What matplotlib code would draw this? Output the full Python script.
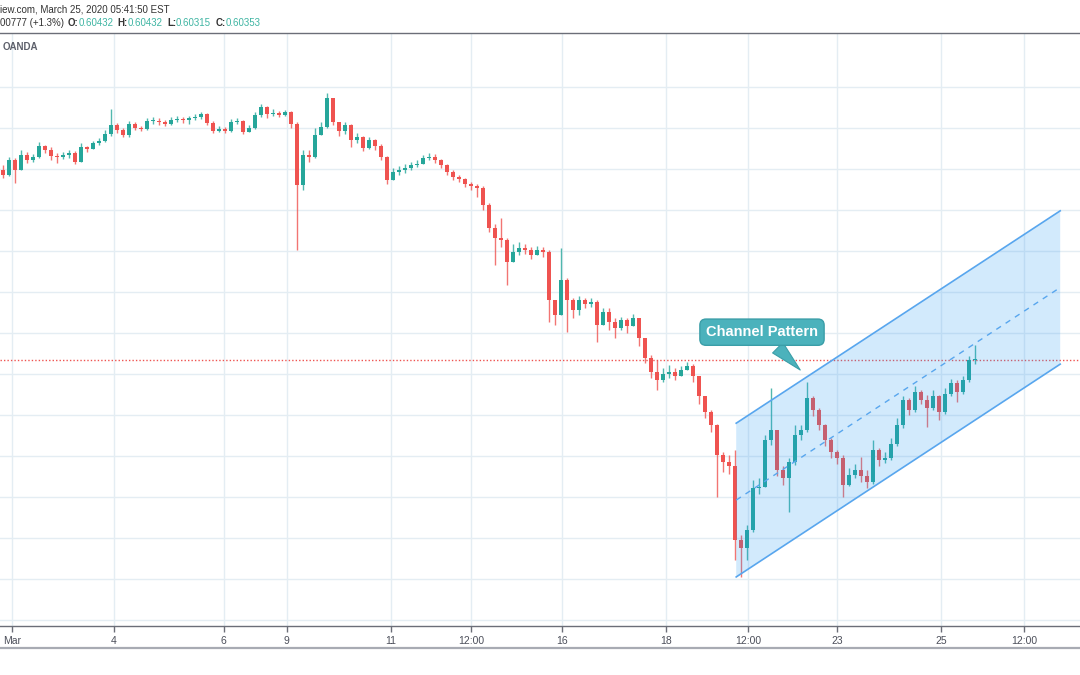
import matplotlib
matplotlib.use("Agg")
import matplotlib.pyplot as plt
import numpy as np
from matplotlib.patches import Polygon
from matplotlib.lines import Line2D

# ---------------- data (AUD/USD) ----------------
first_open = 0.6498
closes = [
    0.6485, 0.6522, 0.6498, 0.6534, 0.6522, 0.6529, 0.6556, 0.6546, 0.6532, 0.6529,
    0.6534, 0.6539, 0.6517, 0.6554, 0.6549, 0.6563, 0.6568, 0.6585, 0.6607, 0.6595,
    0.6583, 0.6610, 0.6600, 0.6598, 0.6617, 0.6617, 0.6615, 0.6610, 0.6620, 0.6622,
    0.6620, 0.6624, 0.6627, 0.6634, 0.6612, 0.6593, 0.6598, 0.6593, 0.6615, 0.6617,
    0.6590, 0.6600, 0.6632, 0.6651, 0.6634, 0.6637, 0.6632, 0.6639, 0.6610, 0.6461,
    0.6534, 0.6529, 0.6583, 0.6602, 0.6673, 0.6615, 0.6593, 0.6607, 0.6571, 0.6578,
    0.6551, 0.6571, 0.6556, 0.6529, 0.6473, 0.6493, 0.6498, 0.6502, 0.6510, 0.6512,
    0.6527, 0.6529, 0.6522, 0.6510, 0.6493, 0.6480, 0.6476, 0.6463, 0.6459, 0.6454,
    0.6412, 0.6356, 0.6332, 0.6327, 0.6273, 0.6298, 0.6307, 0.6302, 0.6290, 0.6302,
    0.6298, 0.6180, 0.6144, 0.6229, 0.6180, 0.6156, 0.6180, 0.6171, 0.6176, 0.6120,
    0.6151, 0.6127, 0.6112, 0.6132, 0.6117, 0.6137, 0.6088, 0.6039, 0.6005, 0.5985,
    0.6000, 0.6005, 0.5995, 0.6010, 0.6020, 0.5995, 0.5946, 0.5907, 0.5876, 0.5802,
    0.5785, 0.5776, 0.5595, 0.5576, 0.5620, 0.5722, 0.5724, 0.5839, 0.5863, 0.5766,
    0.5746, 0.5785, 0.5851, 0.5863, 0.5941, 0.5912, 0.5876, 0.5839, 0.5810, 0.5795,
    0.5729, 0.5754, 0.5766, 0.5751, 0.5737, 0.5815, 0.5790, 0.5795, 0.5829, 0.5876,
    0.5937, 0.5912, 0.5956, 0.5937, 0.5917, 0.5946, 0.5907, 0.5951, 0.5978, 0.5956,
    0.5985, 0.6034, 0.60353]
highs = [
    0.6510, 0.6529, 0.6527, 0.6546, 0.6541, 0.6537, 0.6566, 0.6559, 0.6554, 0.6539,
    0.6541, 0.6546, 0.6544, 0.6563, 0.6556, 0.6568, 0.6576, 0.6595, 0.6646, 0.6612,
    0.6600, 0.6617, 0.6615, 0.6605, 0.6624, 0.6627, 0.6624, 0.6620, 0.6627, 0.6629,
    0.6627, 0.6629, 0.6634, 0.6639, 0.6637, 0.6617, 0.6605, 0.6602, 0.6622, 0.6624,
    0.6620, 0.6607, 0.6639, 0.6659, 0.6654, 0.6646, 0.6641, 0.6644, 0.6641, 0.6615,
    0.6546, 0.6546, 0.6600, 0.6615, 0.6685, 0.6644, 0.6610, 0.6615, 0.6610, 0.6588,
    0.6580, 0.6578, 0.6573, 0.6561, 0.6532, 0.6502, 0.6507, 0.6512, 0.6517, 0.6522,
    0.6534, 0.6539, 0.6537, 0.6524, 0.6512, 0.6498, 0.6485, 0.6478, 0.6468, 0.6463,
    0.6459, 0.6417, 0.6366, 0.6380, 0.6332, 0.6317, 0.6322, 0.6317, 0.6310, 0.6312,
    0.6310, 0.6302, 0.6176, 0.6307, 0.6234, 0.6185, 0.6190, 0.6185, 0.6185, 0.6180,
    0.6161, 0.6161, 0.6137, 0.6139, 0.6137, 0.6146, 0.6137, 0.6088, 0.6046, 0.6034,
    0.6015, 0.6022, 0.6015, 0.6020, 0.6029, 0.6024, 0.5995, 0.5946, 0.5912, 0.5878,
    0.5810, 0.5802, 0.5815, 0.5607, 0.5632, 0.5741, 0.5746, 0.5851, 0.5966, 0.5863,
    0.5776, 0.5795, 0.5876, 0.5876, 0.5980, 0.5946, 0.5917, 0.5878, 0.5844, 0.5815,
    0.5802, 0.5771, 0.5780, 0.5798, 0.5766, 0.5839, 0.5819, 0.5810, 0.5844, 0.5893,
    0.5946, 0.5941, 0.5971, 0.5961, 0.5949, 0.5961, 0.5949, 0.5966, 0.5988, 0.5985,
    0.5995, 0.6044, 0.6071]
lows = [
    0.6478, 0.6483, 0.6466, 0.6498, 0.6515, 0.6517, 0.6527, 0.6539, 0.6522, 0.6515,
    0.6524, 0.6527, 0.6512, 0.6517, 0.6541, 0.6551, 0.6559, 0.6566, 0.6580, 0.6588,
    0.6578, 0.6578, 0.6595, 0.6593, 0.6595, 0.6610, 0.6607, 0.6605, 0.6607, 0.6615,
    0.6612, 0.6610, 0.6620, 0.6622, 0.6607, 0.6588, 0.6590, 0.6588, 0.6590, 0.6610,
    0.6585, 0.6590, 0.6598, 0.6627, 0.6624, 0.6629, 0.6627, 0.6629, 0.6600, 0.6302,
    0.6449, 0.6517, 0.6527, 0.6585, 0.6600, 0.6607, 0.6580, 0.6585, 0.6554, 0.6563,
    0.6544, 0.6549, 0.6546, 0.6522, 0.6463, 0.6476, 0.6485, 0.6490, 0.6498, 0.6505,
    0.6512, 0.6522, 0.6515, 0.6502, 0.6485, 0.6473, 0.6468, 0.6456, 0.6449, 0.6432,
    0.6400, 0.6346, 0.6266, 0.6310, 0.6217, 0.6273, 0.6290, 0.6293, 0.6280, 0.6293,
    0.6285, 0.6127, 0.6120, 0.6180, 0.6102, 0.6137, 0.6144, 0.6161, 0.6163, 0.6078,
    0.6127, 0.6107, 0.6088, 0.6107, 0.6100, 0.6117, 0.6068, 0.6027, 0.5990, 0.5961,
    0.5980, 0.5990, 0.5985, 0.5995, 0.6010, 0.5980, 0.5927, 0.5893, 0.5859, 0.5700,
    0.5761, 0.5756, 0.5546, 0.5505, 0.5546, 0.5615, 0.5707, 0.5729, 0.5827, 0.5751,
    0.5729, 0.5663, 0.5778, 0.5839, 0.5859, 0.5898, 0.5863, 0.5824, 0.5795, 0.5780,
    0.5700, 0.5727, 0.5746, 0.5737, 0.5722, 0.5732, 0.5776, 0.5783, 0.5790, 0.5824,
    0.5868, 0.5900, 0.5907, 0.5927, 0.5871, 0.5912, 0.5888, 0.5902, 0.5946, 0.5932,
    0.5951, 0.5980, 0.6024]

tick_labels = ["Mar", "4", "6", "9", "11", "12:00", "16", "18", "12:00", "23", "25", "12:00"]
tick_pos = [1.5, 18.5, 36.8, 47.3, 64.7, 78.0, 93.2, 110.5, 124.2, 139.0, 156.3, 170.2]
price_grid = [0.54, 0.55, 0.56, 0.57, 0.58, 0.59, 0.60, 0.61, 0.62, 0.63, 0.64, 0.65, 0.66, 0.67]
last_price = 0.60353

channel_x = [122.2, 176.2]
channel_upper = [0.5880, 0.6398]
channel_lower = [0.5505, 0.6024]
callout_text = "Channel Pattern"
callout_xy = (126.5, 0.6102)
callout_tip = (133.2, 0.6005)

header_line1 = "iew.com, March 25, 2020 05:41:50 EST"
header_change = "00777 (+1.3%)"
ohlc_names = ["O:", "H:", "L:", "C:"]
ohlc_values = ["0.60432", "0.60432", "0.60315", "0.60353"]

# ---------------- figure ----------------
W, H = 1080, 675
fig = plt.figure(figsize=(W / 100, H / 100), dpi=100)
fig.patch.set_facecolor("white")
ax = fig.add_axes([0, (H - 626) / H, 1, (626 - 33) / H])
ax.set_facecolor("white")

UP, DOWN = "#26a69a", "#ef5350"
n = len(closes)
x = np.arange(n)
c = np.array(closes)
o = np.array([first_open] + closes[:-1])
h = np.maximum.reduce([np.array(highs), o, c])
l = np.minimum.reduce([np.array(lows), o, c])
cols = [UP if cc >= oo else DOWN for oo, cc in zip(o, c)]

ax.vlines(x, l, h, colors=cols, linewidth=1.0, zorder=2, alpha=0.8)
body = np.maximum(np.abs(c - o), 0.00015)
ax.bar(x, body, bottom=np.minimum(o, c), width=0.72, color=cols, linewidth=0, zorder=2.1)

ax.set_xlim(-0.5, 179.5)
ax.set_ylim(0.53854, 0.68317)

# grid
ax.set_yticks(price_grid)
ax.set_xticks(tick_pos)
ax.set_xticklabels(tick_labels, fontsize=7.5, color="#4c4f5a", family=["Liberation Sans", "DejaVu Sans"])
ax.grid(True, color="#e4edf3", linewidth=1, zorder=0)
ax.set_axisbelow(True)
ax.tick_params(axis="y", left=False, labelleft=False)
ax.tick_params(axis="x", direction="out", length=4, width=1, color="#6b6e78", pad=3)
for s in ["left", "right"]:
    ax.spines[s].set_visible(False)
for s in ["bottom", "top"]:
    ax.spines[s].set_color("#6b6e78")
    ax.spines[s].set_linewidth(1)

# last price line
ax.axhline(last_price, color="#ef5350", linestyle=(0, (1, 1.5)), linewidth=1, zorder=1.5)

# channel
poly = Polygon([(channel_x[0], channel_lower[0]), (channel_x[0], channel_upper[0]),
                (channel_x[1], channel_upper[1]), (channel_x[1], channel_lower[1])],
               closed=True, facecolor="#2196f3", alpha=0.2, edgecolor="none", zorder=3)
ax.add_patch(poly)
ax.plot(channel_x, channel_upper, color="#58a6ee", linewidth=1.2, zorder=4)
ax.plot(channel_x, channel_lower, color="#58a6ee", linewidth=1.2, zorder=4)
mid = [(a + b) / 2 for a, b in zip(channel_upper, channel_lower)]
ax.plot(channel_x, mid, color="#58a6ee", linewidth=1, linestyle=(0, (4, 4)), zorder=4)

# callout
ax.annotate(callout_text, xy=callout_tip, xytext=callout_xy,
            ha="center", va="center", fontsize=10.5, fontweight="bold", color="white",
            family=["Liberation Sans", "DejaVu Sans"],
            bbox=dict(boxstyle="round,pad=0.42", fc="#4bb2bc", ec="#3a9ea8", lw=1),
            arrowprops=dict(arrowstyle="wedge,tail_width=1.0,shrink_factor=0.5",
                            fc="#4bb2bc", ec="#3a9ea8", lw=0.8),
            zorder=6)

# header
def fx(px):
    return px / W

def fy(py):
    return 1 - py / H

hdr_font = ["Liberation Sans", "DejaVu Sans"]
fig.text(fx(0), fy(9), header_line1, fontsize=7, color="#333333", va="center", ha="left", family=hdr_font)

fig.canvas.draw()
renderer = fig.canvas.get_renderer()
pieces = [(header_change, "#333333", "normal", 4)]
for nm, vv in zip(ohlc_names, ohlc_values):
    pieces.append((nm, "#333333", "bold", 0))
    pieces.append((vv, "#3fb5a3", "normal", 4))
xpos = 0.0
for txt, col, wt, gap in pieces:
    t = fig.text(fx(xpos), fy(23), txt, fontsize=7, color=col, fontweight=wt,
                 va="center", ha="left", family=hdr_font)
    bb = t.get_window_extent(renderer)
    xpos = bb.x1 + gap

fig.text(fx(3), fy(47), "OANDA", fontsize=7, color="#5d606b", fontweight="bold", va="center", ha="left",
         family=["Liberation Sans", "DejaVu Sans"])

# bottom border of time scale
fig.add_artist(Line2D([0, 1], [fy(648), fy(648)], color="#a8abb3", linewidth=1.6))

fig.savefig("out.png", dpi=100)
